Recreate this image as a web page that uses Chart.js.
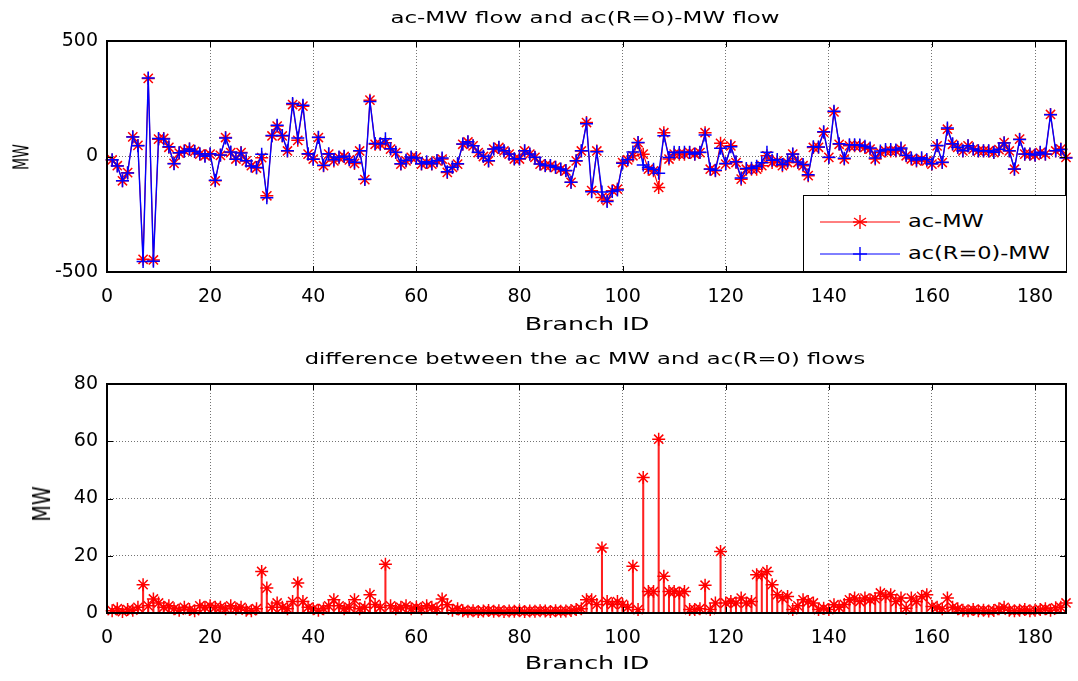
<!DOCTYPE html>
<html><head><meta charset="utf-8">
<script src="https://cdn.jsdelivr.net/npm/chart.js@4.4.1/dist/chart.umd.min.js"></script>
<style>
html,body{margin:0;padding:0;background:#fff;}
#wrap{position:relative;width:1078px;height:681px;overflow:hidden;font-family:"DejaVu Sans",sans-serif;color:#000;background:#fff;}
.pane{position:absolute;left:0;width:1078px;}
.t{position:absolute;white-space:nowrap;line-height:1;}
#legend{position:absolute;left:803px;top:195px;width:262px;height:75px;background:#fff;border:1.5px solid #000;}
#legend .row{position:absolute;left:0;width:262px;height:20px;}
#legend svg{position:absolute;left:16px;top:0;}
#legend .lt{position:absolute;left:104px;top:1px;font-size:17px;line-height:1;white-space:nowrap;transform:scaleX(1.32);transform-origin:left center;}
</style></head><body>
<div id="wrap">
  <div class="pane" style="top:0;height:320px"><canvas id="c1" width="1078" height="320"></canvas></div>
  <div class="pane" style="top:330px;height:351px"><canvas id="c2" width="1078" height="351"></canvas></div>

  <div class="t" style="left:585px;top:18px;font-size:16.5px;transform:translate(-50%,-50%) scaleX(1.39)">ac-MW flow and ac(R=0)-MW flow</div>
  <div class="t" style="left:585px;top:359px;font-size:16.5px;transform:translate(-50%,-50%) scaleX(1.37)">difference between the ac MW and ac(R=0) flows</div>
  <div class="t" style="left:587px;top:325px;font-size:17.5px;transform:translate(-50%,-50%) scaleX(1.45)">Branch ID</div>
  <div class="t" style="left:587px;top:664px;font-size:17.5px;transform:translate(-50%,-50%) scaleX(1.45)">Branch ID</div>
  <div class="t" style="left:21px;top:157px;font-size:14px;transform:translate(-50%,-50%) scaleX(1.45) rotate(-90deg)">MW</div>
  <div class="t" style="left:42px;top:504px;font-size:19px;transform:translate(-50%,-50%) scaleX(1.3) rotate(-90deg)">MW</div>

  <div id="legend">
    <div class="row" style="top:16px">
      <svg width="82" height="20"><line x1="0" y1="10" x2="80" y2="10" stroke="#ff0000" stroke-width="1"/>
        <g stroke="#ff0000" stroke-width="1.4"><line x1="40" y1="3" x2="40" y2="17"/><line x1="34" y1="6" x2="46" y2="14"/><line x1="34" y1="14" x2="46" y2="6"/><line x1="33" y1="10" x2="47" y2="10"/></g></svg>
      <div class="lt">ac-MW</div>
    </div>
    <div class="row" style="top:48px">
      <svg width="82" height="20"><line x1="0" y1="10" x2="80" y2="10" stroke="#0000ff" stroke-width="1"/>
        <g stroke="#0000ff" stroke-width="1.4"><line x1="40" y1="3" x2="40" y2="17"/><line x1="33" y1="10" x2="47" y2="10"/></g></svg>
      <div class="lt">ac(R=0)-MW</div>
    </div>
  </div>
</div>
<script>
// ---- data ----
const branchIds = Array.from({length: 186}, (_, i) => i + 1);
const xTickValues = [0, 20, 40, 60, 80, 100, 120, 140, 160, 180];
const topYTicks = [-500, 0, 500];
const bottomYTicks = [0, 20, 40, 60, 80];

const acMW = [
  -15, -40, -105, -70, 85, 48, -445, 338, -448, 75,
  78, 40, -30, 15, 25, 32, 22, 10, 3, 10,
  -105, 5, 82, 17, -11, 17, -19, -40, -50, -5,
  -170, 89, 132, 89, 24, 225, 70, 218, 10, -11,
  82, -40, 10, -19, -5, 0, -15, -30, 24, -100,
  244, 53, 53, 60, 32, 17, -33, -19, -4, -4,
  -33, -26, -33, -19, -11, -69, -47, -33, 53, 63,
  46, 17, 0, -19, 32, 39, 24, 10, -11, -11,
  24, 10, -4, -33, -40, -40, -47, -55, -62, -112,
  -19, 24, 147, -148, 24, -177, -191, -148, -141, -26,
  -15, 3, 60, 10, -55, -62, -134, 103, -11, 10,
  10, 10, 17, 10, 17, 103, -55, -62, 57, -33,
  46, -26, -98, -55, -55, -55, -40, 3, -26, -19,
  -40, -26, 10, -26, -40, -83, 39, 40, 105, -4,
  193, 53, -11, 46, 46, 46, 39, 32, -11, 17,
  24, 24, 24, 32, 3, -11, -19, -11, -19, -33,
  46, -26, 118, 53, 39, 24, 46, 32, 24, 24,
  24, 17, 30, 60, 24, -55, 75, 10, 10, 5,
  17, 10, 182, 24, 32, -4
];

const acR0MW = [
  -14, -41, -105, -71, 84, 46, -455, 340, -453, 78,
  76, 42, -31, 16, 23, 33, 23, 12, 1, 12,
  -103, 7, 80, 19, -12, 15, -18, -41, -48, 10,
  -179, 91, 135, 91, 25, 229, 80, 222, 12, -12,
  83, -38, 12, -14, -2, 1, -13, -25, 25, -98,
  238, 56, 55, 77, 34, 18, -31, -16, -2, -6,
  -31, -23, -31, -17, -6, -66, -46, -31, 54, 64,
  47, 18, 1, -18, 33, 40, 25, 11, -10, -10,
  25, 11, -3, -32, -39, -39, -46, -54, -61, -111,
  -18, 25, 142, -153, 21, -154, -195, -151, -145, -29,
  -13, 19, 61, -37, -48, -55, -73, 90, -4, 18,
  17, 18, 18, 11, 18, 93, -54, -59, 36, -30,
  42, -23, -93, -52, -51, -42, -27, 18, -16, -13,
  -35, -20, 11, -24, -35, -79, 42, 41, 107, -3,
  196, 55, -8, 51, 51, 50, 44, 37, -6, 24,
  30, 30, 28, 37, 5, -6, -15, -5, -13, -31,
  48, -25, 123, 55, 40, 25, 47, 33, 25, 25,
  25, 18, 31, 58, 25, -54, 74, 11, 11, 6,
  18, 11, 181, 25, 30, -7
];

const diffMW = [
  0.8, 1.5, 0.5, 1.2, 1.0, 2.0, 9.9, 2.5, 4.9, 3.5,
  2.0, 2.5, 1.5, 1.0, 2.0, 1.2, 0.8, 2.5, 2.0, 2.5,
  2.0, 2.0, 1.5, 2.5, 1.5, 2.0, 1.0, 0.8, 1.5, 14.5,
  8.7, 2.0, 3.5, 2.0, 1.5, 4.0, 10.5, 4.0, 2.0, 1.5,
  1.0, 1.5, 2.5, 4.6, 2.5, 1.5, 2.0, 4.6, 1.5, 2.0,
  6.4, 3.0, 2.0, 17.0, 2.5, 1.5, 2.0, 2.5, 1.5, 2.0,
  1.5, 2.5, 2.0, 1.5, 4.9, 2.9, 1.0, 1.5, 0.8, 0.6,
  0.8, 0.5, 0.7, 0.9, 0.6, 0.8, 0.5, 0.7, 0.6, 0.8,
  0.5, 0.7, 0.6, 0.8, 0.7, 0.5, 0.8, 0.6, 0.7, 0.9,
  1.2, 1.5, 4.6, 4.6, 3.0, 22.7, 4.0, 3.0, 4.0, 3.0,
  2.0, 16.3, 1.2, 47.3, 7.5, 7.5, 60.7, 12.8, 7.5, 7.5,
  7.0, 7.5, 1.2, 1.2, 1.5, 9.7, 1.2, 3.5, 21.5, 3.5,
  4.0, 3.5, 5.2, 3.5, 4.0, 13.4, 13.4, 14.5, 9.9, 6.4,
  5.2, 5.8, 1.2, 2.5, 4.6, 4.0, 3.5, 1.2, 1.7, 1.2,
  2.9, 2.0, 3.0, 4.6, 5.2, 4.0, 5.2, 4.6, 5.0, 7.0,
  5.8, 6.4, 4.0, 5.2, 1.7, 5.2, 4.0, 5.8, 6.4, 2.3,
  2.0, 1.5, 5.2, 2.0, 1.5, 1.0, 0.8, 1.2, 0.8, 1.0,
  0.7, 0.9, 1.5, 2.0, 1.0, 0.8, 1.0, 1.2, 0.8, 1.0,
  1.2, 1.5, 1.0, 1.8, 2.0, 3.5
];

// ---- helpers ----
const pts = (ys) => branchIds.map((x, i) => ({x: x, y: ys[i]}));
const tickFont = {family: 'DejaVu Sans', size: 19};
const dash = [1, 2];

const boxPlugin = {
  id: 'matlabBox',
  afterDraw(chart) {
    const {ctx, chartArea: a, scales} = chart;
    const x = scales.x, y = scales.y;
    ctx.save();
    ctx.strokeStyle = '#000';
    ctx.lineWidth = 1;
    ctx.beginPath();
    x.ticks.forEach(t => {
      const px = Math.round(x.getPixelForValue(t.value)) + 0.5;
      ctx.moveTo(px, a.top); ctx.lineTo(px, a.top + 6);
      ctx.moveTo(px, a.bottom); ctx.lineTo(px, a.bottom - 6);
    });
    y.ticks.forEach(t => {
      const py = Math.round(y.getPixelForValue(t.value)) + 0.5;
      ctx.moveTo(a.left, py); ctx.lineTo(a.left + 6, py);
      ctx.moveTo(a.right, py); ctx.lineTo(a.right - 6, py);
    });
    ctx.stroke();
    ctx.lineWidth = 2;
    ctx.strokeRect(a.left, a.top, a.right - a.left, a.bottom - a.top);
    ctx.restore();
  }
};

function makeXScale(xh, pad) {
  return {
    type: 'linear', min: 0, max: 186, offset: false,
    afterFit(s) { s.height = xh; },
    afterBuildTicks(s) { s.ticks = xTickValues.map(v => ({value: v})); },
    ticks: {font: tickFont, color: '#000', padding: pad, maxRotation: 0, autoSkip: false},
    grid: {color: 'rgba(0,0,0,0.55)', lineWidth: 1, drawTicks: false, offset: false},
    border: {display: false, dash: dash}
  };
}
function makeYScale(min, max, vals) {
  return {
    type: 'linear', min: min, max: max,
    afterFit(s) { s.width = 107; },
    afterBuildTicks(s) { s.ticks = vals.map(v => ({value: v})); },
    ticks: {font: tickFont, color: '#000', padding: 9, autoSkip: false},
    grid: {color: 'rgba(0,0,0,0.55)', lineWidth: 1, drawTicks: false},
    border: {display: false, dash: dash}
  };
}

Chart.defaults.font.family = 'DejaVu Sans';

// ---- top chart ----
new Chart(document.getElementById('c1'), {
  type: 'line',
  data: {
    datasets: [
      {
        label: 'ac(R=0)-MW', data: pts(acR0MW), order: 0,
        borderColor: '#0000ff', backgroundColor: '#0000ff', borderWidth: 1.4,
        pointStyle: 'cross', pointRadius: 6.5, pointBorderWidth: 1.5, pointBorderColor: '#0000ff',
        tension: 0, clip: false
      },
      {
        label: 'ac-MW', data: pts(acMW), order: 1,
        borderColor: '#ff0000', backgroundColor: '#ff0000', borderWidth: 1.1,
        pointStyle: 'star', pointRadius: 6.5, pointBorderWidth: 1.5, pointBorderColor: '#ff0000',
        tension: 0, clip: false
      }
    ]
  },
  options: {
    responsive: false, animation: false, events: [],
    layout: {padding: {left: 0, right: 12, top: 41, bottom: 0}},
    plugins: {legend: {display: false}, tooltip: {enabled: false}, title: {display: false}},
    scales: {x: makeXScale(48, 14), y: makeYScale(-500, 500, topYTicks)}
  },
  plugins: [boxPlugin]
});

// ---- bottom chart ----
new Chart(document.getElementById('c2'), {
  type: 'bar',
  data: {
    datasets: [
      {
        type: 'scatter', label: 'difference', data: pts(diffMW), order: 0,
        showLine: false, pointStyle: 'star', pointRadius: 6.5, pointBorderWidth: 1.5,
        pointBorderColor: '#ff0000', backgroundColor: '#ff0000', clip: false
      },
      {
        type: 'bar', label: 'stem', data: pts(diffMW), order: 1,
        backgroundColor: '#ff2020', borderWidth: 0, barThickness: 1.4
      }
    ]
  },
  options: {
    responsive: false, animation: false, events: [],
    layout: {padding: {left: 0, right: 12, top: 54, bottom: 0}},
    plugins: {legend: {display: false}, tooltip: {enabled: false}, title: {display: false}},
    scales: {x: makeXScale(68, 14), y: makeYScale(0, 80, bottomYTicks)}
  },
  plugins: [boxPlugin]
});
</script>
</body></html>
